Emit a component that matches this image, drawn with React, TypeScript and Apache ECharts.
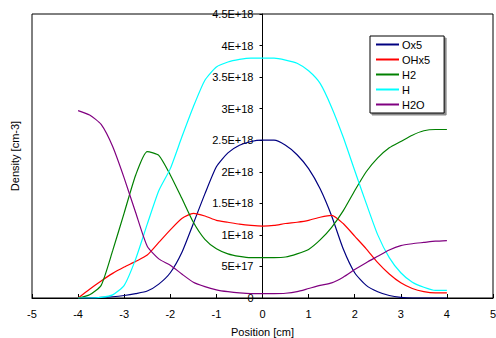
import React, { useEffect, useRef } from "react";
import * as echarts from "echarts";

const SCALE = 1e18;
const positions = [
  -4, -3.75, -3.5, -3.25, -3, -2.75, -2.5, -2.25, -2, -1.75, -1.5, -1.25, -1, -0.75, -0.5, -0.25,
  0, 0.25, 0.5, 0.75, 1, 1.25, 1.5, 1.75, 2, 2.25, 2.5, 2.75, 3, 3.25, 3.5, 3.75, 4,
];
// values in units of 1E18 cm^-3
const ox5 = [
  0, 0, 0.01, 0.02, 0.04, 0.07, 0.11, 0.22, 0.4, 0.72, 1.18, 1.65, 2.08, 2.3, 2.42, 2.48,
  2.5, 2.5, 2.42, 2.27, 2.05, 1.73, 1.3, 0.78, 0.4, 0.2, 0.1, 0.04, 0.01, 0, 0, 0, 0,
];
const ohx5 = [
  0, 0.14, 0.27, 0.39, 0.49, 0.58, 0.68, 0.88, 1.08, 1.26, 1.34, 1.3, 1.23, 1.2, 1.17, 1.15,
  1.14, 1.15, 1.18, 1.2, 1.23, 1.28, 1.31, 1.18, 0.98, 0.78, 0.56, 0.38, 0.24, 0.15, 0.1, 0.08, 0.08,
];
const h2 = [
  0, 0.05, 0.2, 0.75, 1.35, 1.95, 2.32, 2.26, 1.95, 1.58, 1.2, 0.93, 0.78, 0.7, 0.66, 0.64,
  0.64, 0.64, 0.65, 0.7, 0.77, 0.92, 1.12, 1.38, 1.7, 2.0, 2.22, 2.38, 2.48, 2.58, 2.65, 2.67, 2.67,
];
const h = [
  0, 0, 0.01, 0.05, 0.2, 0.62, 1.17, 1.7, 2.05, 2.55, 3.03, 3.45, 3.66, 3.74, 3.78, 3.8,
  3.8, 3.8, 3.77, 3.72, 3.6, 3.4, 3.02, 2.55, 2.02, 1.5, 1.0, 0.64, 0.4, 0.25, 0.17, 0.12, 0.12,
];
const h2o = [
  2.97, 2.9, 2.75, 2.4, 1.9, 1.35, 0.82, 0.62, 0.52, 0.38, 0.25, 0.18, 0.13, 0.1, 0.08, 0.07,
  0.07, 0.07, 0.075, 0.1, 0.15, 0.2, 0.24, 0.33, 0.45, 0.56, 0.66, 0.76, 0.83, 0.86, 0.88, 0.9, 0.91,
];
const seriesNames = ["Ox5", "OHx5", "H2", "H", "H2O"];
const seriesColors = ["#000080", "#ff0000", "#008000", "#00ffff", "#800080"];
const seriesValues = [ox5, ohx5, h2, h, h2o];

const FONT = "'Liberation Sans', Arial, sans-serif";
const GRID_LEFT = 32;
const GRID_RIGHT = 3;
const WIDTH = 496;
const X_MIN = -5;
const X_MAX = 5;
// shift of the y axis from the grid's left edge to x = 0
const Y_AXIS_OFFSET =
  -((0 - X_MIN) / (X_MAX - X_MIN)) * (WIDTH - GRID_LEFT - GRID_RIGHT);

export default function App() {
  const ref = useRef<HTMLDivElement>(null);
  useEffect(() => {
    const chart = echarts.init(ref.current!, undefined, { renderer: "svg" });
    chart.setOption({
      animation: false,
      textStyle: { fontFamily: FONT },
      grid: {
        left: GRID_LEFT,
        right: GRID_RIGHT,
        top: 14,
        bottom: 40,
        containLabel: false,
        outerBoundsMode: "none",
        show: true,
        borderColor: "#000",
        borderWidth: 1,
        backgroundColor: "transparent",
      },
      legend: {
        orient: "vertical",
        left: 370,
        top: 36,
        padding: [3, 14, 3, 5],
        itemWidth: 23,
        itemHeight: 12,
        itemGap: 4,
        backgroundColor: "#fff",
        borderColor: "#000",
        borderWidth: 1,
        shadowColor: "rgba(0,0,0,0.45)",
        shadowOffsetX: 2,
        shadowOffsetY: 2,
        shadowBlur: 0,
        itemStyle: { opacity: 0 },
        textStyle: { fontSize: 11, color: "#000", fontFamily: FONT, padding: [0, 0, 0, -2] },
        data: seriesNames,
      },
      xAxis: {
        type: "value",
        min: X_MIN,
        max: X_MAX,
        interval: 1,
        name: "Position [cm]",
        nameLocation: "middle",
        nameGap: 28,
        nameMoveOverlap: false,
        nameTextStyle: { fontSize: 11, color: "#000", fontFamily: FONT },
        axisLine: { onZero: false, lineStyle: { color: "#000", width: 1 } },
        axisTick: { inside: true, length: 4, lineStyle: { color: "#000" } },
        axisLabel: { fontSize: 11, color: "#000", margin: 10, fontFamily: FONT },
        splitLine: { show: false },
      },
      yAxis: {
        type: "value",
        position: "left",
        offset: Y_AXIS_OFFSET,
        min: 0,
        max: 4.5e18,
        interval: 0.5e18,
        axisLine: { show: true, onZero: false, lineStyle: { color: "#000", width: 1 } },
        axisTick: { show: true, inside: false, length: 3, lineStyle: { color: "#000" } },
        axisLabel: {
          fontSize: 11,
          color: "#000",
          margin: 9,
          fontFamily: FONT,
          formatter: (v: number) =>
            v === 0 ? "0" : v.toExponential().replace("e+", "E+").replace("e-", "E-"),
        },
        splitLine: { show: false },
      },
      graphic: [
        {
          type: "text",
          x: 15,
          y: 156,
          rotation: Math.PI / 2,
          style: {
            text: "Density [cm-3]",
            fontSize: 11,
            fontFamily: FONT,
            fill: "#000",
            align: "center",
            verticalAlign: "middle",
          },
        },
      ],
      series: seriesNames.map((name, i) => ({
        name,
        type: "line",
        symbol: "none",
        smooth: 0.2,
        color: seriesColors[i],
        lineStyle: { color: seriesColors[i], width: 1.2 },
        data: positions.map((x, j) => [x, seriesValues[i][j] * SCALE]),
      })),
    });
    return () => chart.dispose();
  }, []);
  return (
    <div
      ref={ref}
      style={{ position: "fixed", left: 0, top: 0, width: WIDTH, height: 338, background: "#fff" }}
    />
  );
}
